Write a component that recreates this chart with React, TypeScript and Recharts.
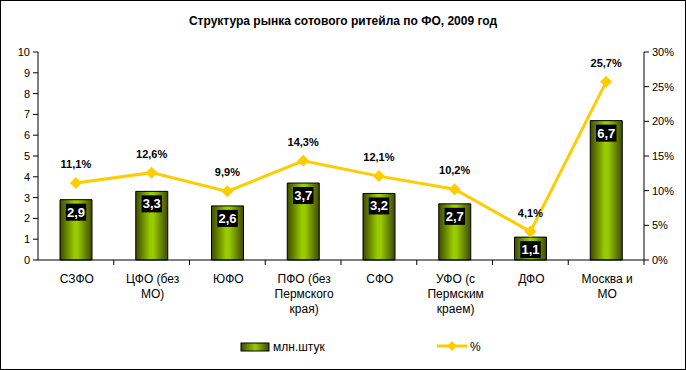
import React from 'react';
import {
  ComposedChart,
  Bar,
  Line,
  XAxis,
  YAxis,
  LabelList,
} from 'recharts';

const categories = [
  'СЗФО',
  'ЦФО (без\nМО)',
  'ЮФО',
  'ПФО (без\nПермского\nкрая)',
  'СФО',
  'УФО (с\nПермским\nкраем)',
  'ДФО',
  'Москва и\nМО',
];
const units = [2.9, 3.3, 2.6, 3.7, 3.2, 2.7, 1.1, 6.7];
const shares = [11.1, 12.6, 9.9, 14.3, 12.1, 10.2, 4.1, 25.7];
const leftTicks = [0, 1, 2, 3, 4, 5, 6, 7, 8, 9, 10];
const rightTicks = [0, 5, 10, 15, 20, 25, 30];

const FONT = '"Liberation Sans", Arial, sans-serif';
const BAND = (644 - 38) / categories.length;

const chartData = categories.map((name, i) => ({
  name,
  units: units[i],
  share: shares[i],
}));

const comma = (v: number) => String(v).replace('.', ',');

// category label split over lines + boundary tick mark
const CategoryTick = (props: any) => {
  const { x, y, payload } = props;
  const lines = String(payload.value).split('\n');
  return (
    <g>
      <line x1={x + BAND / 2} x2={x + BAND / 2} y1={y} y2={y + 5} stroke="#000" />
      {lines.map((ln, i) => (
        <text
          key={i}
          x={x + 1}
          y={y + 23 + i * 15}
          textAnchor="middle"
          fontSize={12}
          fontFamily={FONT}
          fill="#000"
        >
          {ln}
        </text>
      ))}
    </g>
  );
};

const BarValue = (props: any) => {
  const { x, y, width, value } = props;
  const cx = x + width / 2;
  const txt = comma(value);
  const w = txt.length * 6.5 + 1;
  return (
    <g>
      <rect x={cx - w / 2} y={y + 4} width={w} height={17} fill="#000" />
      <text
        x={cx}
        y={y + 17}
        textAnchor="middle"
        fontSize={13}
        fontWeight="bold"
        fontFamily={FONT}
        fill="#fff"
      >
        {txt}
      </text>
    </g>
  );
};

const ShareValue = (props: any) => {
  const { x, y, value } = props;
  return (
    <text
      x={x}
      y={y - 15}
      textAnchor="middle"
      fontSize={11}
      fontWeight="bold"
      fontFamily={FONT}
      fill="#000"
    >
      {comma(value)}%
    </text>
  );
};

const Diamond = (props: any) => {
  const { cx, cy } = props;
  if (cx == null || cy == null) return null;
  const r = 6;
  return (
    <polygon
      points={`${cx},${cy - r} ${cx + r},${cy} ${cx},${cy + r} ${cx - r},${cy}`}
      fill="#ffcc00"
    />
  );
};

export default function App() {
  return (
    <div style={{ position: 'absolute', left: 0, top: 0, width: 686, height: 370, background: '#fff' }}>
      <div
        style={{
          position: 'absolute',
          left: 0,
          top: 0,
          width: 686,
          height: 370,
          boxSizing: 'border-box',
          border: '1px solid #000',
          pointerEvents: 'none',
          zIndex: 2,
        }}
      />
      <div
        style={{
          position: 'absolute',
          top: 14,
          left: 0,
          width: 686,
          textAlign: 'center',
          fontFamily: FONT,
          fontWeight: 'bold',
          fontSize: 12,
        }}
      >
        Структура рынка сотового ритейла по ФО, 2009 год
      </div>

      <ComposedChart
        width={686}
        height={370}
        data={chartData}
        margin={{ top: 52, right: 0, bottom: 0, left: 0 }}
      >
        <defs>
          <linearGradient id="barGrad" x1="0" y1="0" x2="1" y2="0">
            <stop offset="0%" stopColor="#3d4a00" />
            <stop offset="45%" stopColor="#99cc00" />
            <stop offset="55%" stopColor="#99cc00" />
            <stop offset="100%" stopColor="#3d4a00" />
          </linearGradient>
        </defs>

        <XAxis
          dataKey="name"
          interval={0}
          height={110}
          tickLine={false}
          tickSize={0}
          tickMargin={0}
          axisLine={{ stroke: '#000' }}
          tick={<CategoryTick />}
        />

        <YAxis
          yAxisId="units"
          width={38}
          domain={[0, 10]}
          ticks={leftTicks}
          interval={0}
          axisLine={{ stroke: '#000' }}
          tickLine={{ stroke: '#000' }}
          tickSize={5}
          tickMargin={3}
          tick={{ fontSize: 11, fill: '#000', fontFamily: FONT }}
        />

        <YAxis
          yAxisId="share"
          orientation="right"
          width={42}
          domain={[0, 30]}
          ticks={rightTicks}
          interval={0}
          axisLine={{ stroke: '#000' }}
          tickLine={{ stroke: '#000' }}
          tickSize={5}
          tickMargin={3}
          tickFormatter={(v) => `${v}%`}
          tick={{ fontSize: 11, fill: '#000', fontFamily: FONT }}
        />

        <Bar
          yAxisId="units"
          dataKey="units"
          barSize={32}
          fill="url(#barGrad)"
          stroke="#000"
          strokeWidth={1}
          isAnimationActive={false}
        >
          <LabelList dataKey="units" content={<BarValue />} />
        </Bar>

        <Line
          yAxisId="share"
          dataKey="share"
          type="linear"
          stroke="#ffcc00"
          strokeWidth={3}
          dot={<Diamond />}
          activeDot={false}
          isAnimationActive={false}
        >
          <LabelList dataKey="share" content={<ShareValue />} />
        </Line>
      </ComposedChart>

      {/* legend */}
      <svg
        style={{ position: 'absolute', left: 0, top: 330 }}
        width={686}
        height={30}
      >
        <defs>
          <linearGradient id="legGrad" x1="0" y1="0" x2="1" y2="0">
            <stop offset="0%" stopColor="#3d4a00" />
            <stop offset="50%" stopColor="#99cc00" />
            <stop offset="100%" stopColor="#3d4a00" />
          </linearGradient>
        </defs>
        <rect x={241} y={13} width={28} height={8} fill="url(#legGrad)" stroke="#000" />
        <text x={273} y={21} fontSize={12} fontFamily={FONT} fill="#000">
          млн.штук
        </text>
        <line x1={437} x2={467} y1={16} y2={16} stroke="#ffcc00" strokeWidth={3} />
        <polygon points="452,11 457,16 452,21 447,16" fill="#ffcc00" />
        <text x={470} y={21} fontSize={12} fontFamily={FONT} fill="#000">
          %
        </text>
      </svg>
    </div>
  );
}
